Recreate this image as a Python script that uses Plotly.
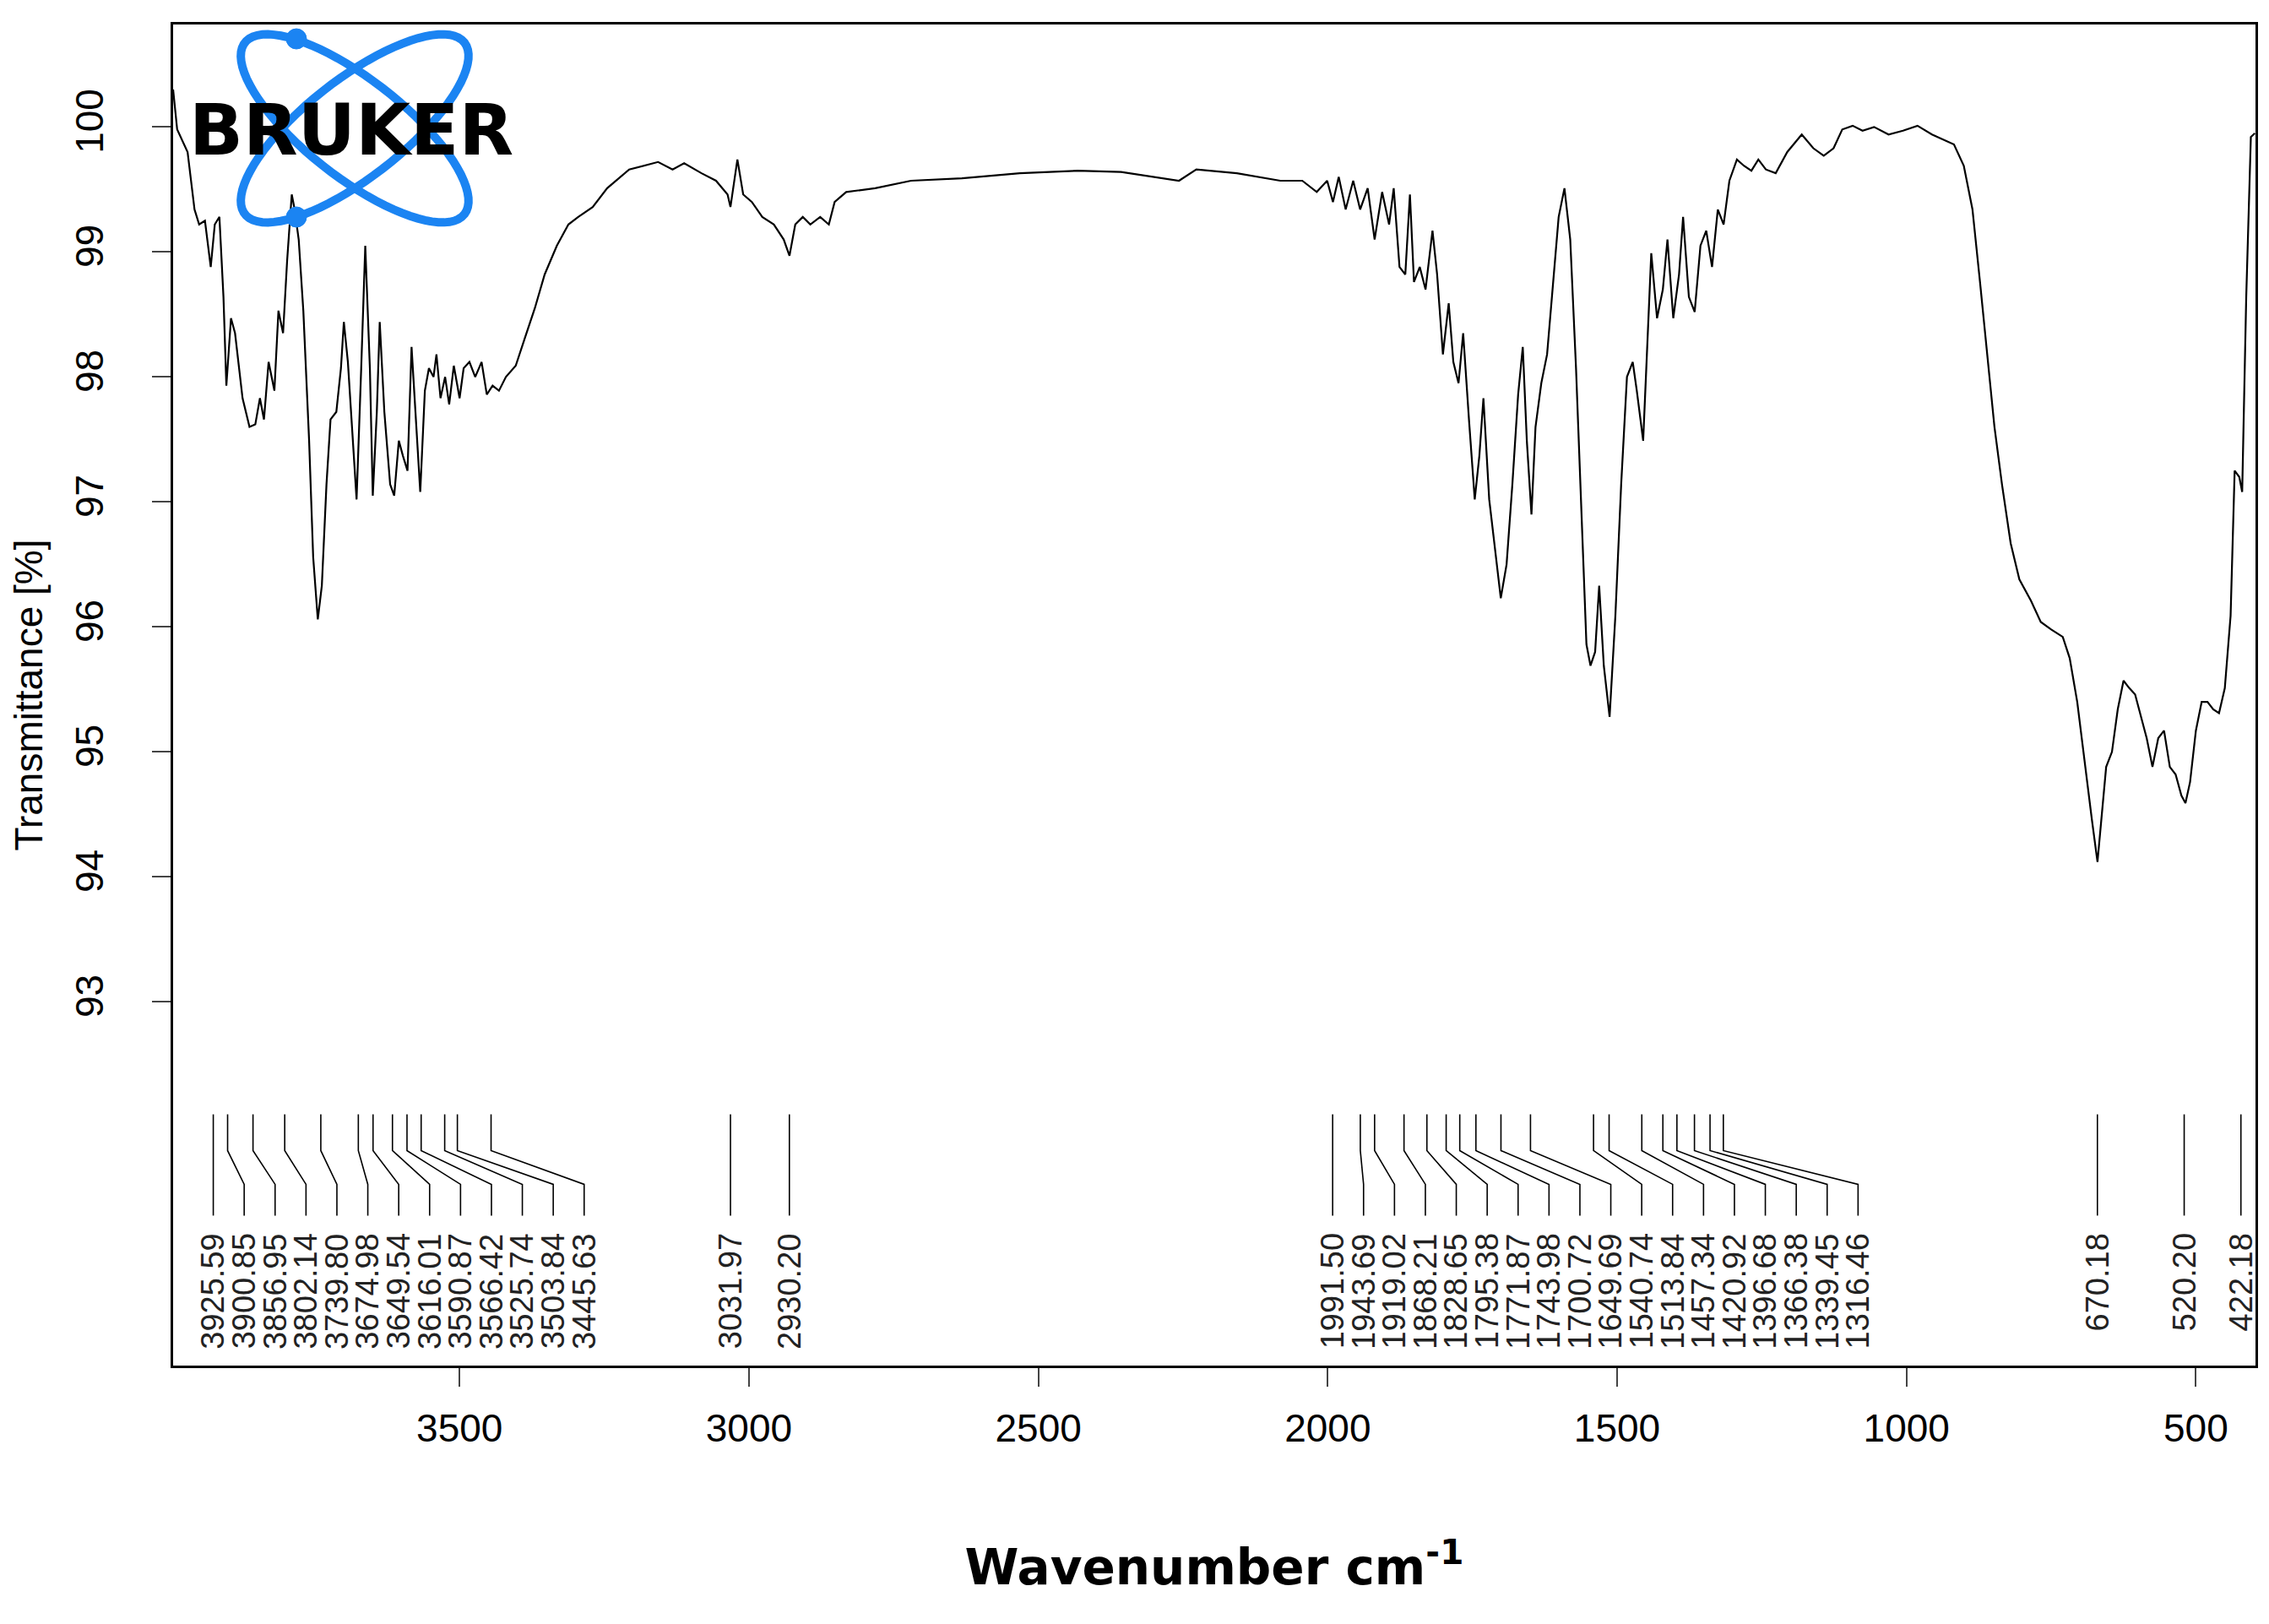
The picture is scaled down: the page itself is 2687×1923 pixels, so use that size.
import numpy as np
import plotly.graph_objects as go

# spectrum: wavenumber (cm-1) and transmittance (%)
wn = [3995, 3988, 3970, 3958, 3950, 3940, 3930, 3923, 3915, 3908, 3903, 3895, 3888, 3875, 3863,
      3853, 3845, 3838, 3830, 3820, 3813, 3805, 3798, 3790, 3785, 3778, 3770, 3760, 3753, 3745,
      3738, 3730, 3723, 3713, 3705, 3700, 3693, 3683, 3678, 3670, 3663, 3655, 3650, 3643, 3638,
      3630, 3620, 3613, 3605, 3598, 3590, 3583, 3575, 3568, 3560, 3553, 3545, 3540, 3533, 3525,
      3518, 3510, 3500, 3493, 3483, 3473, 3462, 3453, 3443, 3432, 3420, 3403, 3388, 3370, 3353,
      3332, 3312, 3295, 3270, 3245, 3207, 3157, 3132, 3112, 3082, 3057, 3037, 3032, 3020, 3010,
      2995, 2977, 2957, 2940, 2930, 2920, 2907, 2894, 2877, 2862, 2852, 2832, 2782, 2720, 2632,
      2532, 2432, 2357, 2257, 2227, 2157, 2082, 2044, 2019, 2001, 1991, 1981, 1969, 1956, 1944,
      1931, 1919, 1906, 1894, 1886, 1876, 1866, 1858, 1851, 1841, 1831, 1819, 1811, 1801, 1791,
      1783, 1774, 1766, 1756, 1746, 1738, 1731, 1721, 1711, 1701, 1691, 1681, 1671, 1663, 1656,
      1648, 1641, 1631, 1621, 1611, 1601, 1591, 1581, 1571, 1561, 1553, 1546, 1538, 1531, 1523,
      1513, 1503, 1493, 1483, 1473, 1466, 1455, 1448, 1441, 1431, 1421, 1413, 1403, 1393, 1386,
      1376, 1366, 1356, 1346, 1336, 1326, 1316, 1306, 1293, 1281, 1268, 1256, 1243, 1226, 1206,
      1181, 1161, 1143, 1126, 1111, 1093, 1076, 1056, 1031, 1006, 981, 956, 918, 901, 886,
      873, 860, 848, 835, 820, 805, 785, 768, 750, 730, 718, 705, 693, 680, 670,
      663, 655, 645, 635, 625, 615, 605, 595, 585, 575, 565, 555, 545, 535, 525,
      518, 510, 500, 490, 480, 470, 460, 450, 440, 433, 425, 420, 413, 405, 398]
trans = [100.3, 99.98, 99.8, 99.34, 99.22, 99.25, 98.88, 99.22, 99.28, 98.64, 97.93, 98.47, 98.35, 97.83, 97.6,
         97.62, 97.83, 97.66, 98.12, 97.89, 98.53, 98.35, 98.93, 99.46, 99.34, 99.1, 98.53, 97.49, 96.56, 96.06,
         96.33, 97.14, 97.66, 97.72, 98.07, 98.44, 98.12, 97.37, 97.02, 98.07, 99.05, 98.07, 97.05, 97.72, 98.44,
         97.72, 97.14, 97.05, 97.49, 97.37, 97.25, 98.24, 97.6, 97.08, 97.89, 98.07, 98.0, 98.18, 97.83, 98.0,
         97.78, 98.09, 97.83, 98.07, 98.12, 98.0, 98.12, 97.86, 97.93, 97.89, 98.0, 98.09, 98.3, 98.55, 98.82,
         99.05, 99.22, 99.28, 99.36, 99.51, 99.66, 99.72, 99.66, 99.71, 99.63, 99.57, 99.46, 99.36, 99.74, 99.46,
         99.4, 99.28, 99.22, 99.1, 98.97, 99.22, 99.28, 99.22, 99.28, 99.22, 99.4, 99.48, 99.51, 99.57, 99.59,
         99.63, 99.65, 99.64, 99.57, 99.66, 99.63, 99.57, 99.57, 99.48, 99.57, 99.4, 99.6, 99.34, 99.57, 99.34,
         99.51, 99.1, 99.48, 99.22, 99.51, 98.88, 98.82, 99.46, 98.76, 98.88, 98.7, 99.17, 98.82, 98.18, 98.59,
         98.12, 97.95, 98.35, 97.66, 97.02, 97.37, 97.83, 97.02, 96.62, 96.23, 96.5, 97.14, 97.86, 98.24, 97.49,
         96.9, 97.6, 97.95, 98.18, 98.76, 99.28, 99.51, 99.1, 98.07, 96.79, 95.86, 95.69, 95.8, 96.33, 95.69,
         95.28, 96.09, 97.14, 98.0, 98.12, 97.89, 97.49, 98.24, 98.99, 98.47, 98.7, 99.1, 98.47, 98.82, 99.28,
         98.64, 98.52, 99.05, 99.17, 98.88, 99.34, 99.22, 99.57, 99.74, 99.69, 99.65, 99.74, 99.66, 99.63, 99.8,
         99.94, 99.83, 99.77, 99.83, 99.98, 100.01, 99.97, 100.0, 99.94, 99.97, 100.01, 99.94, 99.86, 99.69, 99.34,
         98.76, 98.18, 97.6, 97.14, 96.67, 96.38, 96.21, 96.04, 95.98, 95.92, 95.75, 95.4, 94.94, 94.47, 94.12,
         94.47, 94.88, 95.0, 95.34, 95.57, 95.51, 95.46, 95.28, 95.11, 94.88, 95.11, 95.17, 94.88, 94.82, 94.65,
         94.59, 94.76, 95.17, 95.4, 95.4, 95.34, 95.31, 95.51, 96.09, 97.25, 97.2, 97.08, 98.64, 99.92, 99.95]

peaks = [3925.59, 3900.85, 3856.95, 3802.14, 3739.80, 3674.98, 3649.54, 3616.01, 3590.87, 3566.42,
         3525.74, 3503.84, 3445.63, 3031.97, 2930.20, 1991.50, 1943.69, 1919.02, 1868.21, 1828.65,
         1795.38, 1771.87, 1743.98, 1700.72, 1649.69, 1540.74, 1513.84, 1457.34, 1420.92, 1396.68,
         1366.38, 1339.45, 1316.46, 670.18, 520.20, 422.18]

fig = go.Figure()
fig.add_trace(go.Scatter(x=wn, y=trans, mode="lines", line=dict(color="black", width=2.2),
                         hoverinfo="skip", showlegend=False))

# spread the peak labels so they do not overlap
gap = 53.4
lab = []
for p in peaks:
    lab.append(p if not lab else min(p, lab[-1] - gap))

y_top, y_b1, y_b2, y_bot = 92.10, 91.81, 91.54, 91.29
lx, ly = [], []
for p, l in zip(peaks, lab):
    lx += [p, p, l, l, None]
    ly += [y_top, y_b1, y_b2, y_bot, None]
fig.add_trace(go.Scatter(x=lx, y=ly, mode="lines", line=dict(color="black", width=1.6),
                         hoverinfo="skip", showlegend=False))
for p, l in zip(peaks, lab):
    fig.add_annotation(x=l, y=91.16, text=f"{p:.2f}", textangle=-90, showarrow=False,
                       xanchor="center", yanchor="top",
                       font=dict(family="Liberation Sans", size=38, color="#222"))

# Bruker logo, drawn in paper space
L, R, T, B = 197, 2663, 21, 1609
def to_paper(px, py):
    return (px - L) / (R - L), (B - py) / (B - T)

def ellipse_path(cx, cy, a, b, ang):
    t = np.linspace(0, 2 * np.pi, 80)
    c, s = np.cos(ang), np.sin(ang)
    xs = cx + a * np.cos(t) * c - b * np.sin(t) * s
    ys = cy + a * np.cos(t) * s + b * np.sin(t) * c
    pts = [to_paper(x, y) for x, y in zip(xs, ys)]
    return "M " + " L ".join(f"{x:.5f},{y:.5f}" for x, y in pts) + " Z"

blue = "#1b84f2"
for ang in (np.radians(38), np.radians(-38)):
    fig.add_shape(type="path", xref="paper", yref="paper", path=ellipse_path(412, 144, 165, 58, ang),
                  line=dict(color=blue, width=10))
for py in (38, 249):
    x0, y0 = to_paper(331, py - 12)
    x1, y1 = to_paper(355, py + 12)
    fig.add_shape(type="circle", xref="paper", yref="paper", x0=x0, x1=x1, y0=y1, y1=y0,
                  fillcolor=blue, line=dict(color=blue, width=1))
bx, by = to_paper(408, 146)
fig.add_annotation(xref="paper", yref="paper", x=bx, y=by, text="<b>BRUKER</b>", showarrow=False,
                   xanchor="center", yanchor="middle",
                   font=dict(family="DejaVu Sans", size=84, color="black"))

fig.update_layout(
    width=2687, height=1923, plot_bgcolor="white", paper_bgcolor="white",
    margin=dict(l=197, r=24, t=21, b=314),
    font=dict(family="Liberation Sans", color="black"),
)
fig.update_xaxes(range=[3995, 397], tickvals=[3500, 3000, 2500, 2000, 1500, 1000, 500],
                 ticks="outside", ticklen=22, tickwidth=2, showgrid=False, zeroline=False,
                 showline=True, linewidth=3, linecolor="black", mirror=True,
                 tickfont=dict(size=46), ticklabelstandoff=10,
                 title=dict(text="<b>Wavenumber cm<sup>-1</sup></b>", standoff=120,
                            font=dict(family="DejaVu Sans", size=58)))
fig.update_yaxes(range=[90.09, 100.82], tickvals=[93, 94, 95, 96, 97, 98, 99, 100],
                 ticks="outside", ticklen=22, tickwidth=2, showgrid=False, zeroline=False,
                 showline=True, linewidth=3, linecolor="black", mirror=True,
                 tickfont=dict(size=46), tickangle=-90, ticklabelstandoff=40,
                 title=dict(text="Transmittance [%]", standoff=20, font=dict(size=46)))

fig.write_html("out.html")
